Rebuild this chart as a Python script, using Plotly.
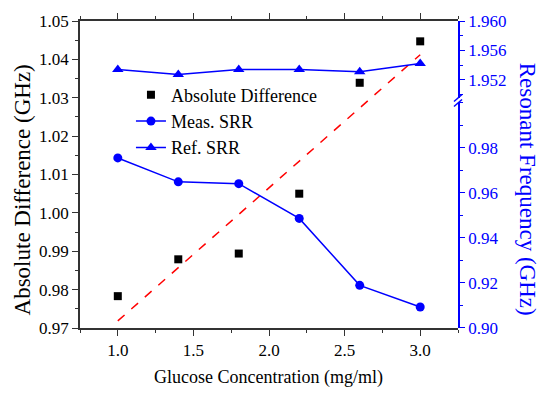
import numpy as np
import plotly.graph_objects as go

concentration = [1.0, 1.4, 1.8, 2.2, 2.6, 3.0]
abs_difference = [0.9783, 0.9879, 0.9894, 1.0050, 1.0339, 1.0447]
meas_srr = [0.9754, 0.9648, 0.9640, 0.9486, 0.9189, 0.9093]
ref_srr = [1.9534, 1.9527, 1.9534, 1.9534, 1.9531, 1.9542]

left_ticks = [0.97, 0.98, 0.99, 1.00, 1.01, 1.02, 1.03, 1.04, 1.05]
lower_right_ticks = [0.90, 0.92, 0.94, 0.96, 0.98]
upper_right_ticks = [1.952, 1.956, 1.960]
x_ticks = [1.0, 1.5, 2.0, 2.5, 3.0]

# linear fit of the absolute difference
slope, intercept = np.polyfit(concentration, abs_difference, 1)
fit_x = [concentration[0], concentration[-1]]
fit_y = [slope * v + intercept for v in fit_x]

FONT = "Liberation Serif"
BLUE = "#0000FF"
AX = "#333333"

fig = go.Figure()
fig.add_trace(go.Scatter(x=concentration, y=abs_difference, mode="markers",
                         name="Absolute Difference",
                         marker=dict(symbol="square", size=8, color="black"),
                         xaxis="x", yaxis="y"))
fig.add_trace(go.Scatter(x=concentration, y=meas_srr, mode="lines+markers",
                         name="Meas. SRR",
                         line=dict(color=BLUE, width=1.5),
                         marker=dict(symbol="circle", size=9, color=BLUE),
                         xaxis="x", yaxis="y2"))
fig.add_trace(go.Scatter(x=concentration, y=ref_srr, mode="lines+markers",
                         name="Ref. SRR",
                         line=dict(color=BLUE, width=1.5),
                         marker=dict(symbol="triangle-up", size=10, color=BLUE),
                         xaxis="x", yaxis="y3"))
fig.add_trace(go.Scatter(x=fit_x, y=fit_y, mode="lines", showlegend=False,
                         line=dict(color="red", width=1.5, dash="dash"),
                         xaxis="x", yaxis="y"))

# page body has an 8px margin; size the figure so that it fills the window
OFF = 8
W, H = 550 - OFF, 398 - OFF
L = 80 - OFF
T = 20.5 - OFF
R = W - (458.3 - OFF)
B = H - (327.7 - OFF)
pw = W - L - R
ph = H - T - B


def px_x(p):
    return (p - OFF - L) / pw


def px_y(p):
    return (H - B - (p - OFF)) / ph


d1 = px_y(102)
d2 = px_y(98)
upper_bottom = 1.960 - (98 - 20.5) / 29.4 * 0.004

fig.update_layout(
    template="none",
    width=W, height=H,
    margin=dict(l=L, r=R, t=T, b=B, autoexpand=False),
    paper_bgcolor="white", plot_bgcolor="rgba(0,0,0,0)",
    font=dict(family=FONT, size=17, color="black"),
    showlegend=True,
    legend=dict(x=px_x(131), y=px_y(76), xanchor="left", yanchor="top",
                bgcolor="rgba(0,0,0,0)", font=dict(family=FONT, size=18),
                tracegroupgap=0, borderwidth=0),
    xaxis=dict(range=[0.75, 3.25], tickvals=x_ticks,
               ticktext=[f"{v:.1f}" for v in x_ticks], automargin=False,
               showgrid=False, zeroline=False, showline=True, linecolor=AX,
               linewidth=1.5, mirror="ticks", ticks="outside", ticklen=6,
               tickcolor=AX, tickwidth=1.2,
               minor=dict(ticks="outside", ticklen=3, dtick=0.25, tick0=0.75,
                          tickcolor=AX, showgrid=False),
               tickfont=dict(family=FONT, size=17)),
    yaxis=dict(range=[0.97, 1.05], tickvals=left_ticks, domain=[0, 1],
               ticktext=[f"{v:.2f}" for v in left_ticks], automargin=False,
               showgrid=False, zeroline=False, showline=True, linecolor=AX,
               linewidth=1.5, ticks="outside", ticklen=6, tickcolor=AX,
               tickwidth=1.2,
               minor=dict(ticks="outside", ticklen=3, dtick=0.005, tick0=0.97,
                          tickcolor=AX, showgrid=False),
               tickfont=dict(family=FONT, size=17)),
    yaxis2=dict(range=[0.90, 1.0], domain=[0, d1], anchor="x",
                side="right", tickvals=lower_right_ticks, automargin=False,
                ticktext=[f"{v:.2f}" for v in lower_right_ticks],
                showgrid=False, zeroline=False, showline=True, linecolor=BLUE,
                linewidth=1.5, ticks="outside", ticklen=5, tickcolor=BLUE,
                tickwidth=1.2,
                minor=dict(ticks="outside", ticklen=3, dtick=0.01, tick0=0.90,
                           tickcolor=BLUE, showgrid=False),
                tickfont=dict(family=FONT, size=17, color=BLUE)),
    yaxis3=dict(range=[upper_bottom, 1.960], domain=[d2, 1], anchor="x",
                side="right", tickvals=upper_right_ticks, automargin=False,
                ticktext=[f"{v:.3f}" for v in upper_right_ticks],
                showgrid=False, zeroline=False, showline=True, linecolor=BLUE,
                linewidth=1.5, ticks="outside", ticklen=5, tickcolor=BLUE,
                tickwidth=1.2,
                minor=dict(ticks="outside", ticklen=3, dtick=0.002, tick0=1.950,
                           tickcolor=BLUE, showgrid=False),
                tickfont=dict(family=FONT, size=17, color=BLUE)),
    annotations=[
        dict(text="Absolute Difference (GHz)", xref="paper", yref="paper",
             x=px_x(22), y=px_y(190), xanchor="center", yanchor="middle",
             textangle=-90, showarrow=False,
             font=dict(family=FONT, size=23, color="black")),
        dict(text="Resonant Frequency (GHz)", xref="paper", yref="paper",
             x=px_x(528), y=px_y(189), xanchor="center", yanchor="middle",
             textangle=90, showarrow=False,
             font=dict(family=FONT, size=23, color=BLUE)),
        dict(text="Glucose Concentration (mg/ml)", xref="paper", yref="paper",
             x=px_x(269), y=px_y(377), xanchor="center", yanchor="middle",
             showarrow=False,
             font=dict(family=FONT, size=18, color="black")),
    ],
    shapes=[
        dict(type="line", xref="paper", yref="paper", xsizemode="pixel",
             ysizemode="pixel", xanchor=1, yanchor=d1, x0=-4, x1=4, y0=-4, y1=3,
             line=dict(color=BLUE, width=1.5)),
        dict(type="line", xref="paper", yref="paper", xsizemode="pixel",
             ysizemode="pixel", xanchor=1, yanchor=d2, x0=-4, x1=4, y0=-3, y1=4,
             line=dict(color=BLUE, width=1.5)),
    ],
)

fig.write_html("out.html")
